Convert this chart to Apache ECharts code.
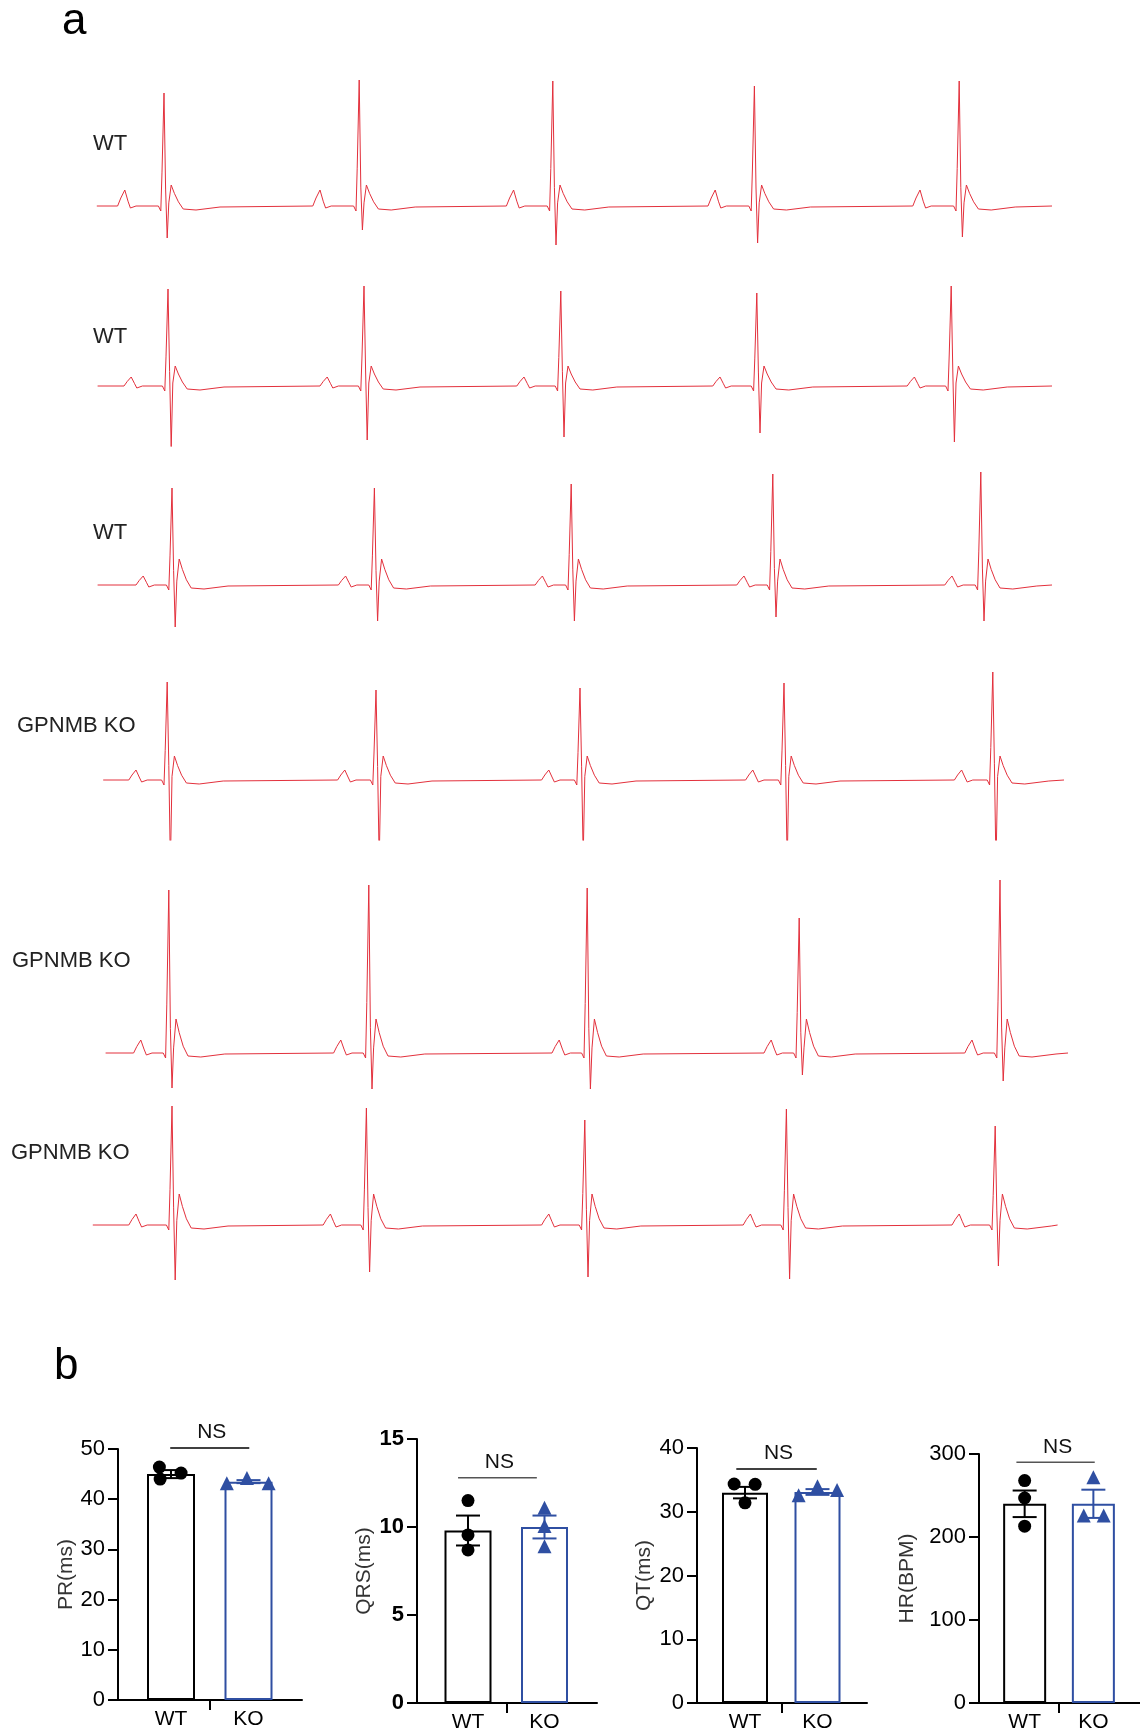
<!DOCTYPE html>
<html>
<head>
<meta charset="utf-8">
<script src="https://cdn.jsdelivr.net/npm/echarts@6/dist/echarts.min.js"></script>
<style>
  html, body { margin: 0; padding: 0; background: #fff; }
  #chart { width: 1140px; height: 1733px; }
</style>
</head>
<body>
<div id="chart"></div>
<script>
const FONT = 'Arial, "Liberation Sans", Helvetica, sans-serif';
const RED = '#e3303c';
const BLUE = '#2f4fa2';

// ---- panel a : ECG traces (time in ms, amplitude in mV) ----
const rowLabels = ['WT', 'WT', 'WT', 'GPNMB KO', 'GPNMB KO', 'GPNMB KO'];
const traceStart = [21, 22, 22, 29, 32, 16];
const traceEnd = [1215, 1215, 1215, 1230, 1235, 1222];
const rTimes = [
  [105, 349, 591, 843, 1099],
  [110, 355, 601, 846, 1089],
  [115, 368, 614, 866, 1126],
  [109, 370, 625, 880, 1141],
  [111, 361, 634, 899, 1150],
  [115, 358, 631, 883, 1144]
];
const rAmp = [
  [1.13, 1.26, 1.25, 1.20, 1.25],
  [0.97, 1.00, 0.95, 0.93, 1.00],
  [0.97, 0.97, 1.01, 1.11, 1.13],
  [0.98, 0.90, 0.92, 0.97, 1.08],
  [1.63, 1.68, 1.65, 1.35, 1.73],
  [1.19, 1.17, 1.05, 1.16, 0.99]
];
const sAmp = [
  [0.32, 0.24, 0.39, 0.37, 0.31],
  [0.62, 0.54, 0.51, 0.47, 0.56],
  [0.42, 0.36, 0.36, 0.32, 0.36],
  [0.85, 0.82, 0.77, 0.84, 0.86],
  [0.35, 0.36, 0.36, 0.22, 0.28],
  [0.55, 0.47, 0.52, 0.54, 0.41]
];
const pAmp = [0.16, 0.09, 0.09, 0.10, 0.13, 0.11];
const tAmp = [0.21, 0.20, 0.26, 0.24, 0.34, 0.31];
const prDelay = [49, 46, 36, 39, 35, 45];

const pShape = [[-9, 'P', 0], [-5, 'P', 0.5], [0, 'P', 1], [4, 'P', 0.3], [7, 'base', -0.02], [14, 'base', 0]];
const qrsShape = [
  [-7, 'base', 0], [-4, 'base', -0.05], [-2.5, 'R', 0.3], [0, 'R', 1], [2, 'R', 0.15],
  [4, 'S', 1], [6, 'T', 0.15], [9, 'T', 1], [13, 'T', 0.6], [18, 'T', 0.2],
  [24, 'base', -0.03], [40, 'base', -0.04], [70, 'base', -0.01]
];

// ---- panel b : bar charts ----
const groups = ['WT', 'KO'];
const yNames = ['PR(ms)', 'QRS(ms)', 'QT(ms)', 'HR(BPM)'];
const yMax = [50, 15, 40, 300];
const yStep = [10, 5, 10, 100];
const means = [[45.0, 43.5], [9.8, 10.0], [33.0, 33.1], [240, 240]];
const sems = [[0.8, 0.3], [0.85, 0.65], [0.9, 0.45], [16, 17]];
const wtPoints = [[46.4, 44.0, 45.2], [11.5, 9.55, 8.7], [34.35, 34.3, 31.4], [268, 247, 213]];
const koPoints = [[43.2, 44.2, 43.2], [11.1, 10.05, 8.9], [32.6, 34.0, 33.4], [272, 226, 226]];
const wtJitter = [[-0.15, -0.14, 0.13], [0, 0, 0], [-0.15, 0.14, 0], [0, 0, 0]];
const koJitter = [[-0.28, -0.02, 0.26], [0, 0, 0], [-0.26, 0, 0.27], [0, -0.14, 0.15]];
const nsX1 = [0.99, 0.87, 0.88, 0.88];
const nsX2 = [2.01, 1.90, 1.99, 2.02];
const nsY = [50.2, 12.8, 36.7, 290];
const nsGray = [0, 1, 0, 1];

// layout (pixels)
const ecgBaseline = [206, 386, 585, 780, 1053, 1225];
const labelPos = [[93, 144], [93, 337], [93, 533], [17, 726], [12, 961], [11, 1153]];
const barLayout = [
  { left: 118, right: 302, top: 1449, bottom: 1700, wtC: 171, koC: 248.5, barW: 48, nameGap: 40 },
  { left: 417, right: 597, top: 1439, bottom: 1706, wtC: 468, koC: 544.5, barW: 47, nameGap: 42 },
  { left: 697, right: 867, top: 1448, bottom: 1703, wtC: 745, koC: 817.5, barW: 46, nameGap: 42 },
  { left: 979, right: 1143, top: 1454, bottom: 1705, wtC: 1025.5, koC: 1095.5, barW: 43, nameGap: 61 }
];

function compValue(kind, f, r, i) {
  if (kind === 'P') return f * pAmp[r];
  if (kind === 'R') return f * rAmp[r][i];
  if (kind === 'S') return -f * sAmp[r][i];
  if (kind === 'T') return f * tAmp[r];
  return f;
}

function buildTrace(r) {
  const pts = [[traceStart[r], 0]];
  rTimes[r].forEach((t, i) => {
    const pt = t - prDelay[r];
    pShape.forEach(([dt, k, f]) => pts.push([pt + dt, compValue(k, f, r, i)]));
    qrsShape.forEach(([dt, k, f]) => pts.push([t + dt, compValue(k, f, r, i)]));
  });
  pts.push([traceEnd[r], 0]);
  return pts;
}

const chart = echarts.init(document.getElementById('chart'), null, { renderer: 'canvas' });

const grids = [], xAxes = [], yAxes = [], series = [], graphics = [];

// ECG rows
rowLabels.forEach((label, r) => {
  grids.push({ left: 80, width: 1000, top: ecgBaseline[r] - 180, height: 240 });
  xAxes.push({ gridIndex: r, type: 'value', min: 0, max: 1250, show: false });
  yAxes.push({ gridIndex: r, type: 'value', min: -0.6, max: 1.8, show: false });
  series.push({
    type: 'line', xAxisIndex: r, yAxisIndex: r, data: buildTrace(r),
    showSymbol: false, silent: true, animation: false,
    lineStyle: { color: RED, width: 1 }
  });
  graphics.push({
    type: 'text', x: labelPos[r][0], y: labelPos[r][1],
    style: { text: label, font: '22px ' + FONT, fill: '#222', verticalAlign: 'middle' }
  });
});

graphics.push({ type: 'text', x: 62, y: 22, style: { text: 'a', font: '44px ' + FONT, fill: '#000', verticalAlign: 'middle' } });
graphics.push({ type: 'text', x: 54, y: 1367, style: { text: 'b', font: '44px ' + FONT, fill: '#000', verticalAlign: 'middle' } });

function renderErr(params, api) {
  const x = api.value(0), m = api.value(1), e = api.value(2);
  const color = api.value(3) ? BLUE : '#000';
  const top = api.coord([x, m + e]);
  const bot = api.coord([x, m - e]);
  const style = { stroke: color, lineWidth: 2 };
  const hw = 12;
  return {
    type: 'group',
    children: [
      { type: 'line', shape: { x1: top[0], y1: top[1], x2: bot[0], y2: bot[1] }, style },
      { type: 'line', shape: { x1: top[0] - hw, y1: top[1], x2: top[0] + hw, y2: top[1] }, style },
      { type: 'line', shape: { x1: bot[0] - hw, y1: bot[1], x2: bot[0] + hw, y2: bot[1] }, style }
    ]
  };
}

function renderNs(params, api) {
  const p1 = api.coord([api.value(0), api.value(2)]);
  const p2 = api.coord([api.value(1), api.value(2)]);
  const stroke = api.value(3) ? '#555' : '#000';
  return {
    type: 'group',
    children: [
      { type: 'line', shape: { x1: p1[0], y1: p1[1], x2: p2[0], y2: p1[1] }, style: { stroke, lineWidth: 1.5 } },
      {
        type: 'text', x: (p1[0] + p2[0]) / 2 + 2, y: p1[1] - 5,
        style: { text: 'NS', font: '21px ' + FONT, fill: '#111', align: 'center', verticalAlign: 'bottom' }
      }
    ]
  };
}

const axisLineStyle = { color: '#000', width: 2 };

barLayout.forEach((L, k) => {
  const gi = 6 + k;
  const scale = L.koC - L.wtC;
  const xmin = 1 - (L.wtC - L.left) / scale;
  const xmax = 1 + (L.right - L.wtC) / scale;
  grids.push({ left: L.left, top: L.top, width: L.right - L.left, height: L.bottom - L.top });
  xAxes.push({
    gridIndex: gi, type: 'value', min: xmin, max: xmax,
    axisLine: { show: true, lineStyle: axisLineStyle },
    axisTick: { show: true, customValues: [1.5], length: 10, lineStyle: axisLineStyle },
    axisLabel: {
      customValues: [1, 2], formatter: v => groups[Math.round(v) - 1],
      fontSize: 21, color: '#000', fontFamily: FONT, margin: 9
    },
    splitLine: { show: false }
  });
  yAxes.push({
    gridIndex: gi, type: 'value', min: 0, max: yMax[k], interval: yStep[k],
    name: yNames[k], nameLocation: 'middle', nameGap: L.nameGap,
    nameTextStyle: { fontSize: 21, color: '#333', fontFamily: FONT },
    axisLine: { show: true, lineStyle: axisLineStyle },
    axisTick: { show: true, length: 10, lineStyle: axisLineStyle },
    axisLabel: { fontSize: 22, color: '#000', fontFamily: FONT, margin: 13, fontWeight: k === 1 ? 'bold' : 'normal' },
    splitLine: { show: false }
  });
  series.push({
    type: 'bar', xAxisIndex: gi, yAxisIndex: gi, barWidth: L.barW, silent: true, animation: false, z: 2,
    data: means[k].map((m, g) => ({
      value: [g + 1, m],
      itemStyle: { color: '#fff', borderColor: g ? BLUE : '#000', borderWidth: 2 }
    }))
  });
  series.push({
    type: 'custom', xAxisIndex: gi, yAxisIndex: gi, renderItem: renderErr, silent: true, animation: false, z: 3,
    data: means[k].map((m, g) => [g + 1, m, sems[k][g], g])
  });
  series.push({
    type: 'scatter', xAxisIndex: gi, yAxisIndex: gi, symbol: 'circle', symbolSize: 13,
    itemStyle: { color: '#000', opacity: 1 }, silent: true, animation: false, z: 4,
    data: wtPoints[k].map((v, i) => [1 + wtJitter[k][i], v])
  });
  series.push({
    type: 'scatter', xAxisIndex: gi, yAxisIndex: gi, symbol: 'triangle', symbolSize: 14,
    itemStyle: { color: BLUE, opacity: 1 }, silent: true, animation: false, z: 4,
    data: koPoints[k].map((v, i) => [2 + koJitter[k][i], v])
  });
  series.push({
    type: 'custom', xAxisIndex: gi, yAxisIndex: gi, renderItem: renderNs, silent: true, animation: false, z: 3,
    clip: false,
    data: [[nsX1[k], nsX2[k], nsY[k], nsGray[k]]]
  });
});

chart.setOption({
  backgroundColor: '#fff',
  animation: false,
  grid: grids,
  xAxis: xAxes,
  yAxis: yAxes,
  series,
  graphic: graphics
});
</script>
</body>
</html>
